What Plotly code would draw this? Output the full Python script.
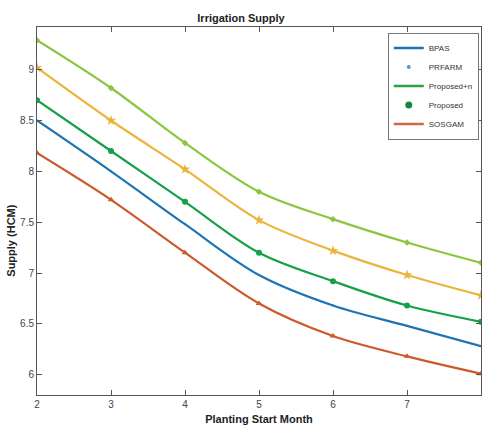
import plotly.graph_objects as go

months = [2, 3, 4, 5, 6, 7, 8]
top_green = [9.29, 8.82, 8.28, 7.80, 7.53, 7.30, 7.10]
yellow = [9.02, 8.50, 8.02, 7.52, 7.22, 6.98, 6.78]
dark_green = [8.70, 8.20, 7.70, 7.20, 6.92, 6.68, 6.52]
blue = [8.50, 8.00, 7.48, 6.98, 6.68, 6.48, 6.28]
orange = [8.18, 7.72, 7.20, 6.70, 6.38, 6.18, 6.01]

x_ticks = [2, 3, 4, 5, 6, 7, 8]
y_ticks = [6, 6.5, 7, 7.5, 8, 8.5, 9]
y_tick_text = ["6", "6.5", "7", "7.5", "8", "8.5", "9"]

FONT = "Liberation Sans Narrow, Arial Narrow, Liberation Sans, Arial"

series = [
    (top_green, "#8cc540", "diamond", 5),
    (yellow, "#eab53a", "star", 8),
    (dark_green, "#15a04a", "circle", 6),
    (blue, "#1f74b4", "circle", 2),
    (orange, "#cc5a2c", "triangle-up", 6),
]

fig = go.Figure()
for vals, col, sym, sz in series:
    fig.add_trace(go.Scatter(
        x=months, y=vals, mode="lines+markers",
        line=dict(color=col, width=2.2, shape="spline", smoothing=0.95),
        marker=dict(symbol=sym, size=sz, color=col),
        showlegend=False, hoverinfo="skip"))

legend_items = [
    ("BPAS", "lines", "#1f74b4", "circle", 1),
    ("PRFARM", "markers", "#4a9fd8", "circle", 4),
    ("Proposed+n", "lines", "#2ea043", "circle", 1),
    ("Proposed", "markers", "#128a3e", "circle", 7),
    ("SOSGAM", "lines", "#d0673e", "circle", 1),
]
for name, mode, col, sym, sz in legend_items:
    fig.add_trace(go.Scatter(
        x=[None], y=[None], mode=mode, name=name,
        line=dict(color=col, width=2.5),
        marker=dict(symbol=sym, size=sz, color=col)))

fig.update_layout(
    width=482, height=430,
    margin=dict(l=37, r=1, t=27, b=35),
    paper_bgcolor="white", plot_bgcolor="white",
    font=dict(family=FONT, size=10, color="#333"),
    title=dict(text="<b>Irrigation Supply</b>", x=0.5, xanchor="center",
               y=1 - 18 / 430, yanchor="middle",
               font=dict(family=FONT, size=11, color="#222")),
    legend=dict(x=0.995, y=0.985, xanchor="right", yanchor="top",
                bgcolor="white", bordercolor="#777", borderwidth=1,
                font=dict(family=FONT, size=8, color="#333"),
                tracegroupgap=0, itemwidth=30),
    xaxis=dict(range=[2, 8], tickvals=x_ticks, ticks="inside", ticklen=5,
               tickcolor="#555", showline=True, linecolor="#555", linewidth=1,
               mirror="ticks", showgrid=False, zeroline=False,
               tickfont=dict(family=FONT, size=10, color="#444"),
               title=dict(text="<b>Planting Start Month</b>", standoff=6,
                          font=dict(family=FONT, size=11, color="#222"))),
    yaxis=dict(range=[5.8, 9.42], tickvals=y_ticks, ticktext=y_tick_text,
               ticks="inside", ticklen=5,
               tickcolor="#555", showline=True, linecolor="#555", linewidth=1,
               mirror="ticks", showgrid=False, zeroline=False,
               tickfont=dict(family=FONT, size=10, color="#444")),
)

fig.add_annotation(text="<b>Supply (HCM)</b>", xref="paper", yref="paper",
                   x=-0.058, y=0.42, textangle=-90, showarrow=False,
                   xanchor="center", yanchor="middle",
                   font=dict(family=FONT, size=11, color="#222"))

fig.write_html("out.html")
